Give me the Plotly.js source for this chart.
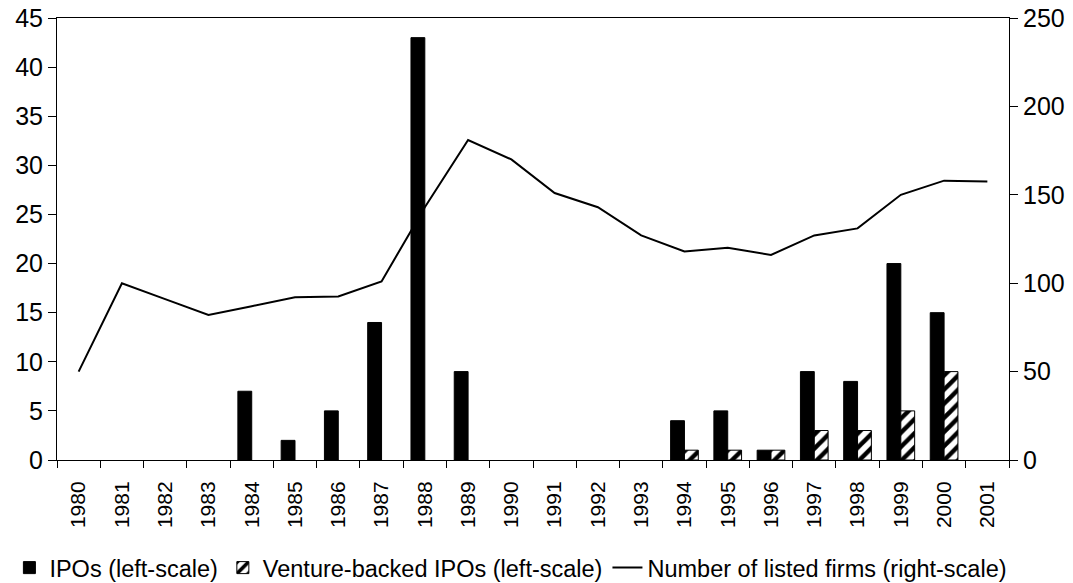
<!DOCTYPE html>
<html>
<head>
<meta charset="utf-8">
<script src="https://cdn.plot.ly/plotly-3.0.1.min.js"></script>
<style>html,body{margin:0;padding:0;background:#fff;}#chart{width:1073px;height:583px;}</style>
</head>
<body>
<div id="chart"></div>
<script>
const years = ['1980','1981','1982','1983','1984','1985','1986','1987','1988','1989','1990',
               '1991','1992','1993','1994','1995','1996','1997','1998','1999','2000','2001'];
const ipos = [null,null,null,null,7,2,5,14,43,9,null,null,null,null,4,5,1,9,8,20,15,null];
const ventureIpos = [null,null,null,null,null,null,null,null,null,null,null,null,null,null,1,1,1,3,3,5,9,null];
const listedFirms = [50,100,91,82,87,92,92.5,101,143,181,170,151,143,127,118,120,116,127,131,150,158,157.5];

const FONT = 'Liberation Sans, Arial, sans-serif';

const traces = [
  {
    type: 'bar', name: 'IPOs (left-scale)', x: years, y: ipos,
    marker: {color: '#000000', line: {color: '#000000', width: 1}},
    hoverinfo: 'x+y'
  },
  {
    type: 'bar', name: 'Venture-backed IPOs (left-scale)', x: years, y: ventureIpos,
    marker: {color: '#ffffff', line: {color: '#000000', width: 1},
             pattern: {shape: '/', fgcolor: '#000000', bgcolor: '#ffffff', size: 10, solidity: 0.45}},
    hoverinfo: 'x+y'
  },
  {
    type: 'scatter', mode: 'lines', name: 'Number of listed firms (right-scale)',
    x: years, y: listedFirms, yaxis: 'y2',
    line: {color: '#000000', width: 2}
  }
];

const layout = {
  width: 1073, height: 583,
  margin: {l: 57, r: 64, t: 18, b: 123, autoexpand: false},
  paper_bgcolor: '#ffffff', plot_bgcolor: '#ffffff',
  font: {family: FONT, size: 16, color: '#000000'},
  barmode: 'group', bargap: 0.36, bargroupgap: 0,
  showlegend: true,
  xaxis: {
    type: 'category', range: [-0.5, 21.5], automargin: false,
    tickangle: -90, tickson: 'boundaries', ticks: 'outside', ticklen: 7, tickcolor: '#000',
    ticklabelstandoff: 12,
    showline: true, linecolor: '#000', linewidth: 1, mirror: true,
    showgrid: false, zeroline: false,
    tickfont: {family: FONT, size: 21, color: '#000'}
  },
  xaxis2: {
    overlaying: 'x', range: [-0.5, 21.5], tick0: -0.5, dtick: 1, automargin: false,
    ticks: 'inside', ticklen: 6, tickcolor: '#000', showticklabels: false,
    showgrid: false, zeroline: false, showline: false, side: 'bottom'
  },
  yaxis: {
    range: [0, 45], dtick: 5, ticks: 'outside', ticklen: 8, tickcolor: '#000', automargin: false,
    showline: true, linecolor: '#000', linewidth: 1,
    showgrid: false, zeroline: false,
    tickfont: {family: FONT, size: 25, color: '#000'}
  },
  yaxis2: {
    overlaying: 'y', side: 'right', range: [0, 250], dtick: 50, automargin: false,
    ticks: 'outside', ticklen: 8, tickcolor: '#000',
    showline: true, linecolor: '#000', linewidth: 1,
    showgrid: false, zeroline: false,
    tickfont: {family: FONT, size: 25, color: '#000'}
  },
  legend: {
    orientation: 'h', x: -0.05, xanchor: 'left', y: -0.244, yanchor: 'middle',
    font: {family: FONT, size: 23.5, color: '#000'}, itemwidth: 30,
    bgcolor: 'rgba(0,0,0,0)'
  }
};

Plotly.newPlot('chart', traces, layout, {displayModeBar: false, staticPlot: true});
</script>
</body>
</html>
